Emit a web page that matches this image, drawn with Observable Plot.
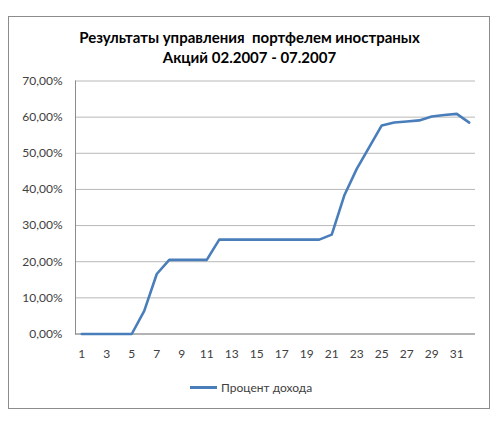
<!DOCTYPE html>
<html>
<head>
<meta charset="utf-8">
<script src="https://cdn.jsdelivr.net/npm/d3@7"></script>
<script src="https://cdn.jsdelivr.net/npm/@observablehq/plot@0.6"></script>
<style>
  html, body { margin: 0; padding: 0; background: #fff; }
  #wrap { position: relative; width: 499px; height: 427px; font-family: Lato, "Open Sans", sans-serif; }
  #frame { position: absolute; left: 8px; top: 16px; width: 480px; height: 391px; border: 1px solid #8c8c8c; box-sizing: content-box; }
  #title { position: absolute; left: 0; width: 499px; top: 27px; text-align: center; font-weight: bold; font-size: 15px; line-height: 20px; color: #000; }
  #chart { position: absolute; left: 0; top: 0; }
  #legend { position: absolute; left: 190px; top: 380px; font-size: 12px; color: #404040; display: flex; align-items: center; }
  #legend .sw { width: 27px; height: 0; border-top: 3px solid #4a7ebb; margin-right: 4px; }
</style>
</head>
<body>
<div id="wrap">
  <div id="frame"></div>
  <div id="chart"></div>
  <div id="title">Результаты управления&nbsp; портфелем иностраных<br>Акций 02.2007 - 07.2007</div>
  <div id="legend"><div class="sw"></div><span id="legendLabel"></span></div>
</div>
<script>
const seriesName = "Процент дохода";
const days = [1,2,3,4,5,6,7,8,9,10,11,12,13,14,15,16,17,18,19,20,21,22,23,24,25,26,27,28,29,30,31,32];
const income = [0,0,0,0,0,0.064,0.166,0.205,0.205,0.205,0.205,0.261,0.261,0.261,0.261,0.261,0.261,0.261,0.261,0.261,0.275,0.383,0.457,0.517,0.577,0.585,0.588,0.591,0.602,0.606,0.609,0.585];
const xTicks = [1,3,5,7,9,11,13,15,17,19,21,23,25,27,29,31];
const yTicks = [0,0.1,0.2,0.3,0.4,0.5,0.6,0.7];

const data = days.map((d, i) => ({day: d, value: income[i]}));
const ru = d3.formatLocale({decimal: ",", thousands: " ", grouping: [3], currency: ["", ""], percent: "%"});
const pct = ru.format(".2%");

document.getElementById("legendLabel").textContent = seriesName;

const chart = Plot.plot({
  width: 499,
  height: 427,
  marginLeft: 75,
  marginRight: 24,
  marginTop: 80.5,
  marginBottom: 93.5,
  style: {fontFamily: "Lato, 'Open Sans', sans-serif", fontSize: "12px", color: "#404040", background: "transparent"},
  x: {type: "point", domain: days, padding: 0.5, round: false, axis: null},
  y: {domain: [0, 0.7], axis: null},
  marks: [
    Plot.gridY(yTicks, {stroke: "#b8b8b8", strokeOpacity: 1}),
    Plot.frame({anchor: "left", stroke: "#8c8c8c"}),
    Plot.axisY(yTicks, {tickSize: 0, tickPadding: 13, tickFormat: pct, fontSize: 12, fill: "#404040", label: null}),
    Plot.axisX(xTicks, {tickSize: 0, tickPadding: 15, fontSize: 12, fill: "#404040", label: null}),
    Plot.ruleY([0], {stroke: "#8c8c8c"}),
    Plot.line(data, {x: "day", y: "value", stroke: "#4a7ebb", strokeWidth: 2.6, strokeLinejoin: "round"})
  ]
});
document.getElementById("chart").appendChild(chart);
</script>
</body>
</html>
